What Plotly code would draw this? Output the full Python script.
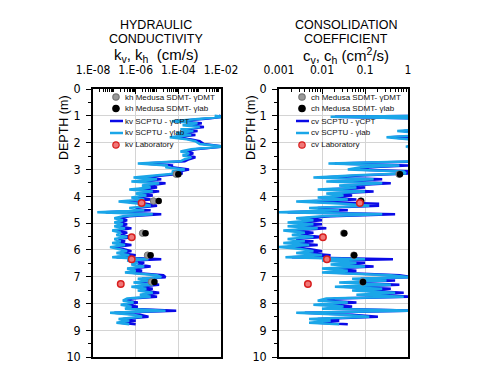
import numpy as np
import plotly.graph_objects as go

# profondita' dei dati SCPTU (m)
depth = [1.00, 1.04, 1.10, 1.20, 1.28, 1.35, 1.42, 1.50, 1.57, 1.65,
         1.72, 1.80, 1.88, 1.95, 2.05, 2.15, 2.25, 2.33, 2.40, 2.48,
         2.55, 2.62, 2.70, 2.78, 2.85, 2.92, 3.00, 3.08, 3.15, 3.22,
         3.30, 3.37, 3.45, 3.52, 3.60, 3.68, 3.75, 3.82, 3.90, 3.97,
         4.05, 4.12, 4.20, 4.28, 4.36, 4.44, 4.52, 4.60, 4.67, 4.75,
         4.82, 4.90, 4.98, 5.05, 5.12, 5.20, 5.28, 5.36, 5.45, 5.52,
         5.60, 5.68, 5.75, 5.82, 5.90, 5.97, 6.05, 6.12, 6.20, 6.28,
         6.35, 6.40, 6.48, 6.55, 6.62, 6.70, 6.78, 6.85, 6.95, 7.02,
         7.08, 7.15, 7.22, 7.30, 7.38, 7.45, 7.52, 7.60, 7.68, 7.75,
         7.82, 7.90, 7.97, 8.05, 8.12, 8.20, 8.27, 8.35, 8.42, 8.50,
         8.58, 8.65, 8.72, 8.78]

# log10 kv (cm/s) - SCPTU gamma CPT
log_kv_cpt = [-2.1, -1.9, -2.6, -4.1, -2.9, -3.6, -2.8, -3.7, -3.1, -3.9,
              -3.2, -4.2, -3.4, -3.0, -2.8, -1.9, -3.2, -3.7, -3.3, -3.6,
              -3.2, -3.5, -3.7, -5.6, -4.3, -4.3, -3.5, -4.0, -3.8, -4.6,
              -5.7, -4.8, -5.9, -4.6, -5.4, -5.0, -6.0, -4.9, -5.7, -5.2,
              -5.9, -5.3, -6.5, -5.5, -5.0, -6.0, -5.3, -7.4, -4.8, -6.3,
              -6.8, -6.4, -6.8, -6.4, -6.8, -6.2, -6.9, -6.4, -6.7, -6.1,
              -6.8, -6.5, -6.9, -6.2, -7.0, -6.6, -6.2, -6.7, -6.0, -6.9,
              -4.8, -6.2, -5.6, -5.9, -5.3, -6.2, -5.7, -6.3, -4.7, -4.6,
              -5.7, -5.0, -5.9, -4.9, -6.0, -5.2, -5.7, -4.9, -5.6, -5.0,
              -6.2, -6.4, -5.9, -6.5, -5.9, -6.3, -4.1, -7.0, -5.8, -5.4,
              -6.6, -6.0, -6.7, -6.0]

# log10 kv (cm/s) - SCPTU gamma lab
log_kv_lab = [-2.3, -1.9, -2.8, -4.3, -3.1, -3.8, -3.0, -3.9, -3.3, -4.1,
              -3.4, -4.4, -3.6, -3.2, -3.0, -1.9, -3.4, -3.9, -3.5, -3.8,
              -3.4, -3.7, -3.9, -5.9, -4.5, -4.6, -3.7, -4.3, -4.1, -4.9,
              -6.1, -5.0, -6.2, -4.9, -5.7, -5.3, -6.3, -5.2, -6.0, -5.5,
              -6.2, -5.6, -6.8, -5.8, -5.3, -6.3, -5.6, -7.8, -5.2, -6.6,
              -7.0, -6.6, -7.0, -6.6, -7.0, -6.5, -7.1, -6.7, -6.9, -6.4,
              -7.0, -6.7, -7.1, -6.5, -7.2, -6.8, -6.4, -6.9, -6.3, -7.1,
              -5.4, -6.4, -5.9, -6.2, -5.6, -6.4, -6.0, -6.5, -5.0, -4.8,
              -5.9, -5.3, -6.1, -5.2, -6.2, -5.5, -5.9, -5.2, -5.8, -5.3,
              -6.4, -6.6, -6.1, -6.7, -6.2, -6.5, -4.6, -7.2, -6.1, -5.7,
              -6.8, -6.3, -6.9, -6.3]

# log10 cv (cm2/s) - SCPTU gamma CPT
log_cv_cpt = [0.4, -1.7, 0.4, 0.6, 0.4, 0.5, 0.6, 0.4, -0.1, 0.4,
              0.5, -0.4, 0.4, 0.6, 0.5, 0.1, 0.5, 0.6, 0.4, 0.6,
              0.5, 0.4, 0.3, -1.7, 0.0, -0.9, -1.2, 0.1, 0.1, -1.0,
              -2.0, -0.6, -1.7, -0.4, -1.4, -1.0, -1.9, -0.8, -1.7, -1.3,
              -1.9, -1.2, -2.4, -0.7, -0.7, -2.1, -1.4, -2.8, -0.3, -1.8,
              -2.4, -2.0, -2.6, -2.0, -2.6, -1.9, -2.7, -2.2, -2.5, -2.0,
              -2.6, -2.2, -2.7, -2.1, -2.8, -2.3, -2.0, -2.4, -1.8, -2.7,
              -0.35, -1.8, -1.0, -1.6, -0.8, -1.8, -1.2, -1.8, -0.2, 0.1,
              -1.1, -0.3, -1.4, -0.2, -1.5, -0.4, -1.1, -0.1, -1.0, 0.1,
              -1.7, -1.9, -1.2, -2.0, -1.3, -1.8, 0.1, -2.4, -1.3, -0.7,
              -2.1, -1.6, -2.1, -1.4]

# log10 cv (cm2/s) - SCPTU gamma lab
log_cv_lab = [0.3, -1.8, 0.3, 0.5, 0.3, 0.4, 0.5, 0.3, -0.25, 0.3,
              0.4, -0.5, 0.3, 0.5, 0.4, -0.05, 0.4, 0.5, 0.3, 0.5,
              0.4, 0.3, 0.2, -1.85, -0.2, -1.1, -1.4, -0.1, -0.05, -1.2,
              -2.2, -0.8, -1.9, -0.6, -1.6, -1.2, -2.1, -1.0, -1.9, -1.5,
              -2.1, -1.4, -2.6, -1.5, -0.9, -2.3, -1.6, -3.0, -0.6, -2.0,
              -2.6, -2.2, -2.8, -2.2, -2.8, -2.1, -2.9, -2.4, -2.7, -2.2,
              -2.8, -2.4, -2.9, -2.3, -3.0, -2.5, -2.2, -2.6, -2.0, -2.85,
              -1.0, -2.0, -1.2, -1.8, -1.0, -2.0, -1.4, -2.0, -0.4, 0.05,
              -1.3, -0.5, -1.6, -0.4, -1.7, -0.6, -1.3, -0.3, -1.2, -0.1,
              -1.9, -2.1, -1.4, -2.2, -1.5, -2.0, 0.05, -2.6, -1.5, -0.9,
              -2.3, -1.8, -2.3, -1.6]

# Medusa SDMT
dmt_depth = [3.18, 4.18, 5.38, 6.20, 7.20]
kh_dmt = [8.0e-5, 6.9e-6, 2.1e-6, 3.6e-6, 5.5e-6]
kh_lab = [1.0e-4, 1.2e-5, 2.9e-6, 5.0e-6, 7.6e-6]
ch_dmt = [0.62, 0.08, 0.032, 0.055, 0.088]
ch_lab = [0.65, 0.081, 0.033, 0.056, 0.09]

# laboratorio
lab_depth = [4.25, 5.53, 6.35, 7.28]
kv_lab = [1.9e-6, 6.5e-7, 6.5e-7, 2.0e-7]
cv_lab = [0.076, 0.0105, 0.013, 0.0047]

y_ticks = list(range(0, 11))

FONT = "Liberation Sans, Arial, sans-serif"
NARROW = "Liberation Sans Narrow, DejaVu Sans Condensed, Arial Narrow, Liberation Sans, Arial"
W, H = 497, 375
OFF = 8  # margine del body della pagina html
DARK = "#0a0ae6"
LIGHT = "#1aa6e8"

fig = go.Figure()

kv_cpt = np.power(10.0, log_kv_cpt)
kv_gl = np.power(10.0, log_kv_lab)
cv_cpt = np.power(10.0, log_cv_cpt)
cv_gl = np.power(10.0, log_cv_lab)

for xa, ya, c1, c2, p_dmt, p_lab, p_l in [
    ("x", "y", kv_cpt, kv_gl, kh_dmt, kh_lab, kv_lab),
    ("x2", "y2", cv_cpt, cv_gl, ch_dmt, ch_lab, cv_lab),
]:
    fig.add_trace(go.Scatter(x=c1, y=depth, mode="lines", xaxis=xa, yaxis=ya,
                             line=dict(color=DARK, width=2.5), showlegend=False))
    fig.add_trace(go.Scatter(x=c2, y=depth, mode="lines", xaxis=xa, yaxis=ya,
                             line=dict(color=LIGHT, width=2.5), showlegend=False))
    fig.add_trace(go.Scatter(x=p_dmt, y=dmt_depth, mode="markers", xaxis=xa, yaxis=ya,
                             marker=dict(size=6.5, color="#9a9a9a", line=dict(color="#777", width=1)),
                             showlegend=False))
    fig.add_trace(go.Scatter(x=p_lab, y=dmt_depth, mode="markers", xaxis=xa, yaxis=ya,
                             marker=dict(size=6.5, color="black"), showlegend=False))
    fig.add_trace(go.Scatter(x=p_l, y=lab_depth, mode="markers", xaxis=xa, yaxis=ya,
                             marker=dict(size=6.5, color="#f07878", line=dict(color="#d81e1e", width=1.5)),
                             showlegend=False))

# tacche minori per gli assi logaritmici
minor_k = [m * 10.0 ** e for e in range(-8, -2) for m in range(2, 10)]
minor_c = [m * 10.0 ** e for e in range(-3, 0) for m in range(2, 10)]


def px(xp, yp):
    return (xp - OFF) / W, 1 - (yp - OFF) / H


def xaxis_style(dom, rng, tv, tt, minor_vals, anchor):
    return dict(type="log", domain=dom, range=rng, side="top", anchor=anchor,
                tickvals=tv, ticktext=tt, ticks="inside", ticklen=5,
                tickcolor="black", ticklabelstandoff=8, tickangle=0,
                automargin=False,
                tickfont=dict(family=NARROW, size=12, color="black"),
                showgrid=True, gridcolor="#d4d4d4", gridwidth=1,
                showline=True, linecolor="black", linewidth=1.5, mirror=True,
                zeroline=False,
                minor=dict(tickvals=minor_vals, ticks="inside", ticklen=3,
                           tickcolor="black", showgrid=False))


def yaxis_style(dom, anchor):
    return dict(domain=dom, range=[10, 0], anchor=anchor, automargin=False,
                tickvals=y_ticks, ticks="outside", ticklen=5, tickcolor="black",
                ticklabelstandoff=3,
                tickfont=dict(family=NARROW, size=12.5, color="black"),
                showgrid=True, gridcolor="#d4d4d4", gridwidth=1,
                showline=True, linecolor="black", linewidth=1.5, mirror=True,
                zeroline=False,
                minor=dict(dtick=0.5, ticks="outside", ticklen=3,
                           tickcolor="black", showgrid=False))


ydom = [px(0, 357)[1], px(0, 89)[1]]
fig.update_layout(
    width=W, height=H,
    margin=dict(l=0, r=0, t=0, b=0, autoexpand=False),
    paper_bgcolor="white", plot_bgcolor="white",
    font=dict(family=FONT, color="black"),
    showlegend=False,
    xaxis=xaxis_style([px(93, 0)[0], px(221, 0)[0]], [-8, -2], [1e-8, 1e-6, 1e-4, 1e-2],
                      ["1.E-08", "1.E-06", "1.E-04", "1.E-02"], minor_k, "y"),
    yaxis=yaxis_style(ydom, "x"),
    xaxis2=xaxis_style([px(279, 0)[0], px(408, 0)[0]], [-3, 0], [0.001, 0.01, 0.1, 1],
                       ["0.001", "0.01", "0.1", "1"], minor_c, "y2"),
    yaxis2=yaxis_style(ydom, "x2"),
)

# titoli
for cx, lines, unit in [
    (156, ["HYDRAULIC", "CONDUCTIVITY"], "k<sub>v</sub>, k<sub>h</sub>  (cm/s)"),
    (346, ["CONSOLIDATION", "COEFFICIENT"], "c<sub>v</sub>, c<sub>h</sub> (cm<sup>2</sup>/s)"),
]:
    for yy, t in zip([25, 38.5], lines):
        x0, y0 = px(cx, yy)
        fig.add_annotation(x=x0, y=y0, xref="paper", yref="paper", text=t,
                           xanchor="center", yanchor="middle",
                           showarrow=False, font=dict(size=12.5, family=FONT))
    x0, y0 = px(cx, 55.5)
    fig.add_annotation(x=x0, y=y0, xref="paper", yref="paper", text=unit,
                       xanchor="center", yanchor="middle",
                       showarrow=False, font=dict(size=15, family=FONT))

for xx in [64, 251]:
    x0, y0 = px(xx, 128)
    fig.add_annotation(x=x0, y=y0, xref="paper", yref="paper", text="DEPTH (m)",
                       xanchor="center", yanchor="middle",
                       textangle=-90, showarrow=False, font=dict(size=12.5, family=FONT))

# legende manuali
leg_rows = [97, 108.5, 121, 133, 145]
for mx, labels in [
    (116, ["kh Medusa SDMT- γDMT", "kh Medusa SDMT- γlab", "kv SCPTU - γCPT",
           "kv SCPTU - γlab", "kv Laboratory"]),
    (302, ["ch Medusa SDMT- γDMT", "ch Medusa SDMT- γlab", "cv SCPTU - γCPT",
           "cv SCPTU - γlab", "cv Laboratory"]),
]:
    styles = [("m", "#9a9a9a", "#777"), ("m", "black", "black"), ("l", DARK, None),
              ("l", LIGHT, None), ("m", "#f07878", "#d81e1e")]
    for yy, lab, (kind, c, lc) in zip(leg_rows, labels, styles):
        ax, ay = px(mx, yy)
        if kind == "m":
            fig.add_shape(type="circle", xref="paper", yref="paper",
                          xsizemode="pixel", ysizemode="pixel",
                          xanchor=ax, yanchor=ay, x0=-3.2, x1=3.2, y0=-3.2, y1=3.2,
                          fillcolor=c, line=dict(color=lc, width=1.2))
        else:
            l0, _ = px(mx - 6, yy)
            l1, _ = px(mx + 7, yy)
            fig.add_shape(type="line", xref="paper", yref="paper",
                          x0=l0, x1=l1, y0=ay, y1=ay, line=dict(color=c, width=2.5))
        tx, ty = px(mx + 7, yy)
        fig.add_annotation(x=tx, y=ty, xref="paper", yref="paper", text=lab,
                           xanchor="left", yanchor="middle", showarrow=False,
                           font=dict(size=8, family=FONT, color="#111"))

fig.write_html("out.html")
